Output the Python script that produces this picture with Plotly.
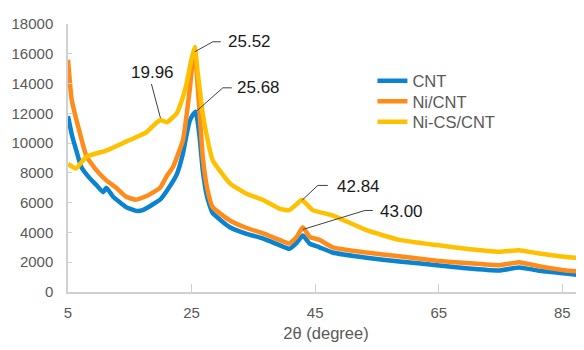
import plotly.graph_objects as go

# ---- data (2θ in degrees, intensity) ----
two_theta_cnt = [5.0, 5.6, 6.35, 7.15, 8.4, 9.55, 10.7, 11.2, 12.3, 14.4, 16.0, 17.1, 19.9, 21.0,
                 22.6, 23.6, 24.2, 24.7, 25.2, 25.68, 26.3, 26.8, 27.5, 28.4, 31.2, 33.9, 36.5, 39.2,
                 40.8, 42.0, 43.0, 44.1, 45.7, 47.8, 53.3, 58.6, 64.7, 69.4, 74.8, 78.0, 81.0, 85.6, 88.5]
intensity_cnt = [11800, 10600, 9500, 8400, 7700, 7200, 6700, 7000, 6400, 5700, 5450, 5500, 6200, 6800,
                 7900, 9300, 10600, 11500, 11900, 12100, 10400, 8200, 6400, 5300, 4350, 3900, 3600, 3150,
                 2900, 3300, 3800, 3250, 3000, 2650, 2300, 2050, 1800, 1600, 1450, 1650, 1450, 1250, 1100]

two_theta_ni = [5.0, 5.6, 6.9, 8.0, 9.55, 11.2, 12.8, 14.4, 16.0, 18.0, 19.9, 21.0, 22.0, 23.6,
                24.7, 25.2, 25.52, 26.3, 26.8, 27.5, 28.4, 31.2, 33.9, 36.5, 39.2, 40.8, 42.0, 43.0,
                44.1, 45.7, 47.8, 53.3, 58.6, 64.7, 69.4, 74.8, 78.0, 81.0, 85.6, 88.5]
intensity_ni = [15600, 12900, 10700, 9100, 8200, 7500, 7000, 6400, 6200, 6500, 7000, 7800, 8400, 10200,
                13600, 15600, 16050, 12000, 9100, 7000, 5700, 4800, 4300, 3950, 3500, 3250, 3700, 4350,
                3700, 3500, 3000, 2650, 2400, 2100, 1950, 1800, 2000, 1750, 1450, 1350]

two_theta_ncs = [5.0, 6.3, 8.0, 11.2, 14.4, 17.6, 19.4, 19.96, 21.0, 22.6, 23.6, 24.2, 24.7, 25.2, 25.52,
                 26.0, 26.8, 27.5, 28.4, 31.2, 33.9, 36.5, 39.2, 40.8, 42.0, 42.84, 44.6, 47.8, 53.3,
                 58.6, 64.7, 69.4, 74.8, 78.0, 81.0, 85.6, 88.5]
intensity_ncs = [8600, 8300, 9100, 9500, 10100, 10700, 11400, 11550, 11400, 12000, 13100, 14000, 15100, 16000, 16450,
                 14700, 12000, 10400, 8850, 7300, 6600, 6200, 5600, 5500, 5900, 6200, 5500, 5150, 4150,
                 3500, 3150, 2900, 2700, 2800, 2600, 2350, 2250]

series_names = ["CNT", "Ni/CNT", "Ni-CS/CNT"]
series_x = [two_theta_cnt, two_theta_ni, two_theta_ncs]
series_y = [intensity_cnt, intensity_ni, intensity_ncs]
series_colors = ["#0A84D0", "#FF8C1A", "#FFC000"]

x_ticks = [5, 25, 45, 65, 85]
y_ticks = [0, 2000, 4000, 6000, 8000, 10000, 12000, 14000, 16000, 18000]

# peak callouts: label, peak position (2θ, intensity)
callout_labels = ["19.96", "25.52", "25.68", "42.84", "43.00"]
callout_x = [19.96, 25.52, 25.68, 42.84, 43.00]
callout_y = [11550, 16000, 12100, 6150, 4200]
# callout layout (pixel offsets from the peak: text left/centre, leader path)
callout_text_shift = [(-31, 48), (31, 12), (39, 24), (33, 14), (75, 18)]
callout_paths = ["M 0 2 L -9 36", "M 0 2 L 18 12 L 26 12", "M 1 1 L 27 24 L 36 24",
                 "M 0 0 L 16 15 L 26 15", "M 0 0 L 62 19 L 70 19"]

# one legend per series so the rows can sit 20 px apart
legend_ids = ["legend", "legend2", "legend3"]
legend_tops = [0.8525, 0.7759, 0.6993]

font_family = "Liberation Sans, Arial, sans-serif"

fig = go.Figure()
for name, xs, ys, col, lg in zip(series_names, series_x, series_y, series_colors, legend_ids):
    fig.add_trace(go.Scatter(x=xs, y=ys, mode="lines", name=name, legend=lg,
                             line=dict(color=col, width=4.5, shape="spline", smoothing=0.4)))

for lab, px, py, (dx, dy), path in zip(callout_labels, callout_x, callout_y,
                                       callout_text_shift, callout_paths):
    fig.add_annotation(x=px, y=py, xref="x", yref="y", text=lab, showarrow=False,
                       xanchor="left", yanchor="middle", xshift=dx, yshift=dy,
                       font=dict(family=font_family, size=17, color="#1a1a1a"))
    fig.add_shape(type="path", xref="x", yref="y", xsizemode="pixel", ysizemode="pixel",
                  xanchor=px, yanchor=py, path=path,
                  line=dict(color="#404040", width=1))

legend_style = dict(x=0.59, xanchor="left", yanchor="top", bgcolor="rgba(0,0,0,0)",
                    font=dict(family=font_family, size=16.5, color="#595959"))
legend_layout = {lg: dict(legend_style, y=top) for lg, top in zip(legend_ids, legend_tops)}

# the page body adds an 8 px offset, so the figure is sized/margined to compensate
fig.update_layout(
    width=576, height=342,
    margin=dict(l=60, r=0, t=16, b=58),
    paper_bgcolor="white", plot_bgcolor="white",
    font=dict(family=font_family, size=15, color="#595959"),
    showlegend=True,
    xaxis=dict(range=[5, 88.5], tickvals=x_ticks, ticks="inside", ticklen=8,
               tickcolor="#d0d0d0", showline=True, linecolor="#d0d0d0", linewidth=1.5,
               showgrid=False, zeroline=False, ticklabelstandoff=6,
               title=dict(text="2θ (degree)", font=dict(size=16.5, color="#595959"), standoff=8)),
    yaxis=dict(range=[0, 18000], tickvals=y_ticks, tickformat="d", ticks="inside", ticklen=4,
               tickcolor="#d0d0d0", showline=True, linecolor="#d0d0d0", linewidth=1.5,
               showgrid=False, zeroline=False, ticklabelstandoff=10),
    **legend_layout,
)

fig.write_html("out.html")
